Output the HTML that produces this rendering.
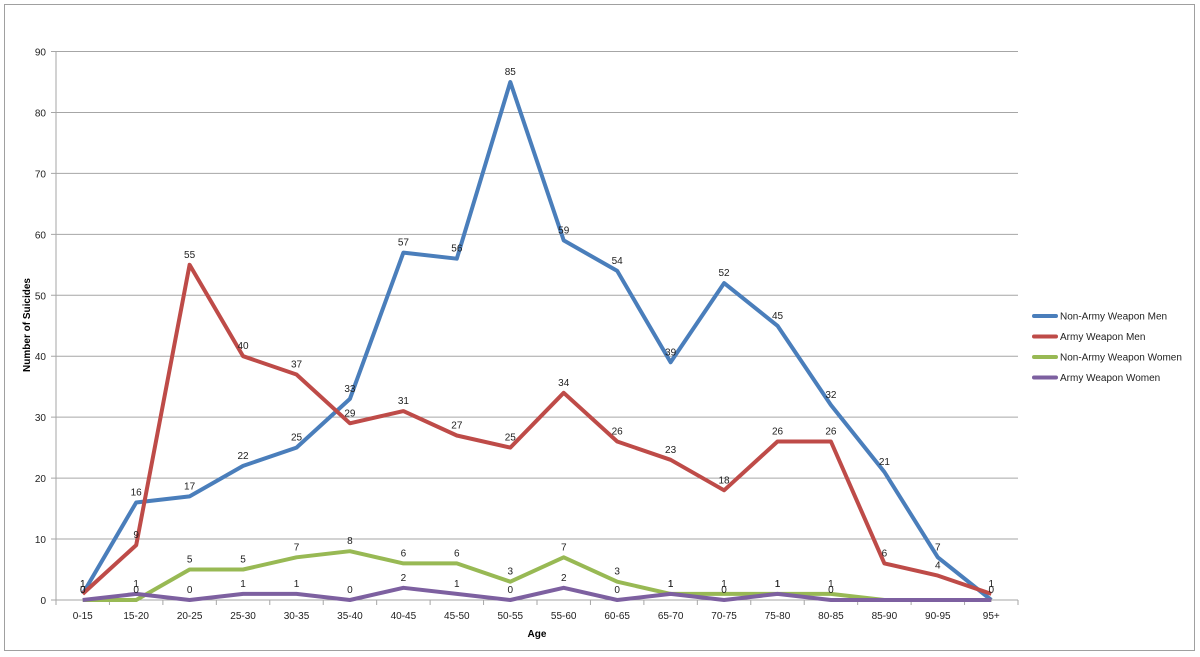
<!DOCTYPE html>
<html><head><meta charset="utf-8"><style>
html,body{margin:0;padding:0;background:#fff;width:1200px;height:657px;overflow:hidden}
text{font-family:"Liberation Sans",sans-serif}
</style></head><body>
<svg id="s" width="1200" height="657" xmlns="http://www.w3.org/2000/svg"></svg>
<script>
var s=document.getElementById('s'),h='';
h+='<rect x="4.5" y="4.5" width="1190" height="646" fill="#fff" stroke="#a0a0a0"/>';
var x0=56,x1=1018,y0=600,y90=51.5,k=(y0-y90)/90,cw=(x1-x0)/18;
function Y(v){return y0-v*k}function X(i){return x0+cw*(i+0.5)}
for(var v=0;v<=90;v+=10){var y=Y(v);h+='<line x1="'+(x0-5)+'" x2="'+x1+'" y1="'+y+'" y2="'+y+'" stroke="#a6a6a6"/>';
h+='<text x="'+(x0-10)+'" y="'+(y+4)+'" font-size="10" text-anchor="end" fill="#222">'+v+'</text>';}
h+='<line x1="'+x0+'" x2="'+x0+'" y1="'+y90+'" y2="'+y0+'" stroke="#a6a6a6"/>';
var cats=['0-15','15-20','20-25','25-30','30-35','35-40','40-45','45-50','50-55','55-60','60-65','65-70','70-75','75-80','80-85','85-90','90-95','95+'];
for(var i=0;i<=18;i++){var x=x0+cw*i;h+='<line x1="'+x+'" x2="'+x+'" y1="'+y0+'" y2="'+(y0+5)+'" stroke="#a6a6a6"/>';}
cats.forEach(function(c,i){h+='<text x="'+X(i)+'" y="'+(y0+19)+'" font-size="10" text-anchor="middle" fill="#222">'+c+'</text>';});
h+='<text x="537" y="637" font-size="10" font-weight="bold" text-anchor="middle">Age</text>';
h+='<text transform="translate(30,325) rotate(-90)" font-size="10" font-weight="bold" text-anchor="middle">Number of Suicides</text>';
var S=[
['#4a7ebb',[1,16,17,22,25,33,57,56,85,59,54,39,52,45,32,21,7,0],'Non-Army Weapon Men'],
['#be4b48',[1,9,55,40,37,29,31,27,25,34,26,23,18,26,26,6,4,1],'Army Weapon Men'],
['#98b954',[0,0,5,5,7,8,6,6,3,7,3,1,1,1,1,0,0,0],'Non-Army Weapon Women'],
['#7d60a0',[0,1,0,1,1,0,2,1,0,2,0,1,0,1,0,0,0,0],'Army Weapon Women']];
var lab='';
S.forEach(function(sr,j){var p=sr[1].map(function(v,i){return X(i).toFixed(1)+','+Y(v).toFixed(1)}).join(' ');
h+='<polyline points="'+p+'" fill="none" stroke="'+sr[0]+'" stroke-width="4" stroke-linejoin="round"/>';
sr[1].forEach(function(v,i){if(j>=2&&v==0&&i>14)return;lab+='<text x="'+X(i)+'" y="'+(Y(v)-7)+'" font-size="10" text-anchor="middle" fill="#222">'+v+'</text>';});
var ly=316+j*20.5;h+='<line x1="1034" x2="1056" y1="'+ly+'" y2="'+ly+'" stroke="'+sr[0]+'" stroke-width="4" stroke-linecap="round"/>';
h+='<text x="1060" y="'+(ly+3.5)+'" font-size="10" fill="#222">'+sr[2]+'</text>';});
s.innerHTML=h+lab;
</script>
</body></html>
